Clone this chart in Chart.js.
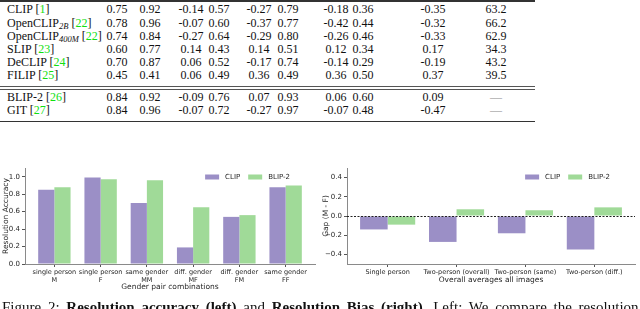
<!DOCTYPE html>
<html><head><meta charset="utf-8">
<script src="https://cdn.jsdelivr.net/npm/chart.js@4.4.1/dist/chart.umd.min.js"></script>
<style>
html,body{margin:0;padding:0;width:640px;height:309px;overflow:hidden;background:#fff;}
#wrap{position:relative;width:640px;height:309px;overflow:hidden;}
.cell{position:absolute;font-family:"Liberation Serif","DejaVu Serif",serif;font-size:12px;color:#111;white-space:nowrap;line-height:12px;}
.num{width:60px;text-align:center;}
.cite{color:#10e010;}
.dash{color:#888;}
.rule{position:absolute;left:0;background:#333;}
canvas{position:absolute;}
#cap{position:absolute;left:2px;top:300px;font-family:"Liberation Serif",serif;font-size:15px;line-height:15px;word-spacing:3px;color:#111;white-space:nowrap;}
</style></head>
<body><div id="wrap">
<div class="rule" style="top:0;width:535px;height:1.5px"></div>
<div class="rule" style="top:86px;width:535px;height:0.8px;background:#555"></div>
<div class="rule" style="top:88.5px;width:535px;height:0.8px;background:#555"></div>
<div class="rule" style="top:120.5px;width:535px;height:1.5px"></div>
<canvas id="acc" width="320" height="140" style="left:0;top:160px"></canvas>
<canvas id="gap" width="320" height="140" style="left:320px;top:160px"></canvas>
<div id="cap">Figure 2: <b>Resolution accuracy (left)</b> and <b>Resolution Bias (right)</b>. Left: We compare the resolution</div>
</div>
<script>
// ---------- data ----------
const tableModels = ["CLIP","OpenCLIP","OpenCLIP","SLIP","DeCLIP","FILIP","BLIP-2","GIT"];
const tableSubs = ["","2B","400M","","","","",""];
const tableCites = ["1","22","22","23","24","25","26","27"];
const tableValues = [
 ["0.75","0.92","-0.14","0.57","-0.27","0.79","-0.18","0.36","-0.35","63.2"],
 ["0.78","0.96","-0.07","0.60","-0.37","0.77","-0.42","0.44","-0.32","66.2"],
 ["0.74","0.84","-0.27","0.64","-0.29","0.80","-0.26","0.46","-0.33","62.9"],
 ["0.60","0.77","0.14","0.43","0.14","0.51","0.12","0.34","0.17","34.3"],
 ["0.70","0.87","0.06","0.52","-0.17","0.74","-0.14","0.29","-0.19","43.2"],
 ["0.45","0.41","0.06","0.49","0.36","0.49","0.36","0.50","0.37","39.5"],
 ["0.84","0.92","-0.09","0.76","0.07","0.93","0.06","0.60","0.09","—"],
 ["0.84","0.96","-0.07","0.72","-0.27","0.97","-0.07","0.48","-0.47","—"]
];
const seriesNames = ["CLIP","BLIP-2"];
const accCategories = [["single person","M"],["single person","F"],["same gender","MM"],["diff. gender","MF"],["diff. gender","FM"],["same gender","FF"]];
const accClip = [0.85,0.99,0.70,0.19,0.54,0.88];
const accBlip = [0.88,0.97,0.96,0.65,0.56,0.90];
const accTicks = [0,0.2,0.4,0.6,0.8,1.0];
const gapCategories = ["Single person","Two-person (overall)","Two-person (same)","Two-person (diff.)"];
const gapClip = [-0.14,-0.27,-0.18,-0.35];
const gapBlip = [-0.09,0.07,0.06,0.09];
const gapTicks = [-0.4,-0.2,0,0.2,0.4];

// ---------- table layout ----------
const rowY = [9,22.5,35.5,48.5,61.5,74.5,97,110];
const colX = [117,150,191,219,259,288,336,363,433,496];
const wrap = document.getElementById('wrap');
tableModels.forEach((m,r)=>{
  const d = document.createElement('div');
  d.className='cell';
  d.style.left='7px'; d.style.top=(rowY[r]-6)+'px';
  d.innerHTML = m + (tableSubs[r]?'<sub style="font-size:8.5px;font-style:italic;vertical-align:-2px">'+tableSubs[r]+'</sub>':'') + ' [<span class="cite">'+tableCites[r]+'</span>]';
  wrap.appendChild(d);
  tableValues[r].forEach((v,c)=>{
    const e=document.createElement('div');
    e.className='cell num'+(v==='—'?' dash':'');
    e.style.left=(colX[c]-30)+'px'; e.style.top=(rowY[r]-6)+'px';
    e.textContent=v;
    wrap.appendChild(e);
  });
});

// ---------- charts ----------
const PURPLE='#9b8fc6', GREEN='#a0da98';
const FONT='"DejaVu Sans", sans-serif';
const TXT='#262626', AXIS='#8a8a8a', TICK='#555';
const fmt = v => { const s=Math.abs(v).toFixed(1); return v<-1e-9 ? '\u2212'+s : s; };

const miniLegend = {
  id:'miniLegend',
  afterDraw(chart, args, o){
    const {ctx, chartArea} = chart;
    ctx.save();
    ctx.font = '7px '+FONT;
    ctx.textBaseline='middle';
    const ds = chart.data.datasets;
    const widths = ds.map(d=>o.box+o.gap+ctx.measureText(d.label).width);
    const total = widths.reduce((a,b)=>a+b,0)+o.space*(ds.length-1);
    let x = chartArea.right - o.right - total;
    const y = chartArea.top + o.top;
    ds.forEach((d,i)=>{
      ctx.fillStyle=d.backgroundColor;
      ctx.fillRect(x, y-2.5, o.box, 5);
      ctx.fillStyle=TXT;
      ctx.fillText(d.label, x+o.box+o.gap, y);
      x += widths[i]+o.space;
    });
    ctx.restore();
  }
};
const zeroLine = {
  id:'zeroLine',
  afterDatasetsDraw(chart){
    const {ctx, chartArea, scales} = chart;
    const y = Math.round(scales.y.getPixelForValue(0))+0.5;
    ctx.save();
    ctx.setLineDash([2,1.5]);
    ctx.strokeStyle='#222'; ctx.lineWidth=1;
    ctx.beginPath(); ctx.moveTo(chartArea.left,y); ctx.lineTo(chartArea.right,y); ctx.stroke();
    ctx.restore();
  }
};

function makeChart(id, cats, clip, blip, ticksY, yMin, yMax, xMargin, catPct, yTitle, xTitle, yW, xTitlePad, rightPad){
  return new Chart(document.getElementById(id), {
    type:'bar',
    data:{datasets:[
      {label:seriesNames[0], data:clip.map((v,i)=>({x:i,y:v})), backgroundColor:PURPLE},
      {label:seriesNames[1], data:blip.map((v,i)=>({x:i,y:v})), backgroundColor:GREEN}
    ]},
    options:{
      responsive:false, animation:false, devicePixelRatio:1,
      layout:{autoPadding:false, padding:{left:0,right:rightPad,top:8,bottom:0}},
      datasets:{bar:{categoryPercentage:catPct, barPercentage:1.0}},
      scales:{
        x:{type:'linear', offset:false, min:-xMargin, max:cats.length-1+xMargin,
          afterBuildTicks:s=>{s.ticks=cats.map((c,i)=>({value:i}));},
          afterFit:s=>{s.height=36; s.paddingLeft=0; s.paddingRight=0;},
          ticks:{callback:(v,i)=>cats[i], autoSkip:false, maxRotation:0, minRotation:0, padding:1, color:TXT, font:{family:FONT,size:6.5,lineHeight:1.3}},
          grid:{offset:false, drawOnChartArea:false, tickLength:3, tickColor:TICK},
          border:{color:AXIS,width:1},
          title:{display:true, text:xTitle, color:TXT, font:{family:FONT,size:7.5}, padding:{top:0,bottom:xTitlePad}}
        },
        y:{min:yMin, max:yMax,
          afterBuildTicks:s=>{s.ticks=ticksY.map(v=>({value:v}));},
          afterFit:s=>{s.width=yW; s.paddingTop=0; s.paddingBottom=0;},
          ticks:{callback:v=>fmt(v), padding:2, color:TXT, font:{family:FONT,size:7}},
          grid:{drawOnChartArea:false, tickLength:3, tickColor:TICK},
          border:{color:AXIS,width:1},
          title:{display:true, text:yTitle, color:TXT, font:{family:FONT,size:7.5}, padding:{top:2,bottom:0}}
        }
      },
      plugins:{legend:{display:false}, tooltip:{enabled:false},
        miniLegend:{box:14,gap:6,space:8,right:25,top:9}}
    },
    plugins: id==='gap' ? [miniLegend, zeroLine] : [miniLegend]
  });
}
makeChart('acc', accCategories, accClip, accBlip, accTicks, 0, 1.1, 0.635, 0.7, 'Resolution Accuracy', 'Gender pair combinations', 25, 8, 5);
makeChart('gap', gapCategories, gapClip, gapBlip, gapTicks, -0.5, 0.5, 0.59, 0.8, 'Gap (M - F)', 'Overall averages all images', 27, 15, 5);
</script>
</body></html>
